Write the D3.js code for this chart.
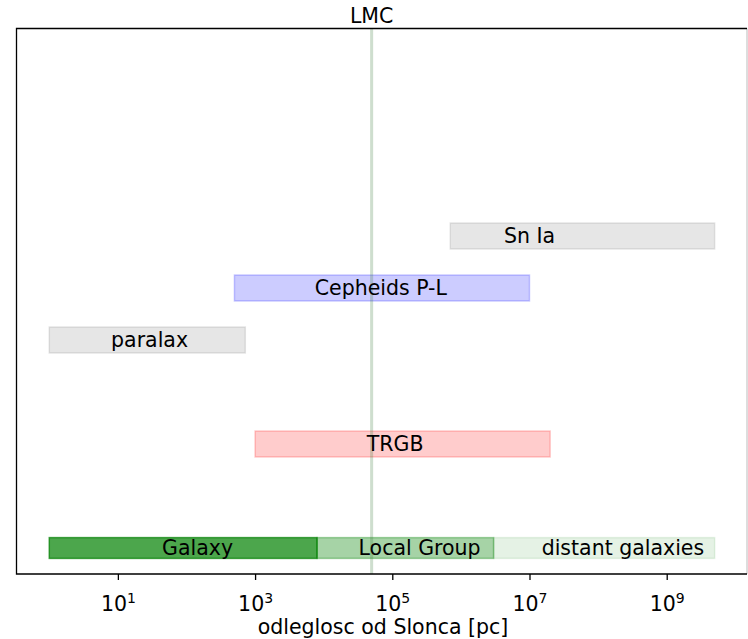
<!DOCTYPE html>
<html>
<head>
<meta charset="utf-8">
<script src="https://cdn.jsdelivr.net/npm/d3@7"></script>
<style>
  body { margin: 0; background: #fff; }
  text { font-family: "DejaVu Sans", sans-serif; fill: #000; }
</style>
</head>
<body>
<div id="chart"></div>
<script>
// distance ranges of methods (pc)
var methods = ["Sn Ia", "Cepheids P-L", "paralax", "TRGB"];
var methodRow = [6, 5, 4, 2];
var methodStart = [7e5, 500, 1, 1e3];
var methodEnd = [5e9, 1e7, 720, 2e7];
var methodColor = ["gray", "blue", "gray", "red"];
var methodLabelX = [1e7, 6.8e4, 29, 1.1e5];

// regions along the bottom row
var regions = ["Galaxy", "Local Group", "distant galaxies"];
var regionStart = [1, 8e3, 3e6];
var regionEnd = [8e3, 3e6, 5e9];
var regionAlpha = [0.7, 0.35, 0.1];
var regionLabelX = [145, 2.5e5, 2.3e8];

var lmc = 5e4;
var tickExp = [1, 3, 5, 7, 9];

var width = 748, height = 639;
var margin = {top: 28, right: 0, bottom: 65, left: 16};

var svg = d3.select("#chart").append("svg")
  .attr("width", width)
  .attr("height", height);

var x = d3.scaleLog()
  .domain([Math.pow(10, -0.485), Math.pow(10, 10.185)])
  .range([margin.left, width - margin.right]);

var y = d3.scaleLinear()
  .domain([-0.5, 10])
  .range([height - margin.bottom, margin.top]);

var fs = 20.5;

// method bars
var mdata = methods.map(function(m, i) {
  return {name: m, row: methodRow[i], s: methodStart[i], e: methodEnd[i], c: methodColor[i], lx: methodLabelX[i]};
});

svg.selectAll(".mbar")
    .data(mdata)
  .enter().append("rect")
    .attr("class", "mbar")
    .attr("x", function(d) { return x(d.s); })
    .attr("width", function(d) { return x(d.e) - x(d.s); })
    .attr("y", function(d) { return y(d.row + 0.25); })
    .attr("height", function(d) { return y(d.row - 0.25) - y(d.row + 0.25); })
    .attr("fill", function(d) { return d.c; })
    .attr("fill-opacity", 0.2)
    .attr("stroke", function(d) { return d.c; })
    .attr("stroke-opacity", 0.2)
    .attr("stroke-width", 1.5);

// region bars
var rdata = regions.map(function(r, i) {
  return {name: r, s: regionStart[i], e: regionEnd[i], a: regionAlpha[i], lx: regionLabelX[i]};
});

svg.selectAll(".rbar")
    .data(rdata)
  .enter().append("rect")
    .attr("class", "rbar")
    .attr("x", function(d) { return x(d.s); })
    .attr("width", function(d) { return x(d.e) - x(d.s); })
    .attr("y", y(0.2))
    .attr("height", y(-0.2) - y(0.2))
    .attr("fill", "green")
    .attr("fill-opacity", function(d) { return d.a; })
    .attr("stroke", "green")
    .attr("stroke-opacity", function(d) { return d.a; })
    .attr("stroke-width", 1.5);

// LMC line
svg.append("line")
  .attr("x1", x(lmc)).attr("x2", x(lmc))
  .attr("y1", margin.top).attr("y2", height - margin.bottom)
  .attr("stroke", "#3a7a3a")
  .attr("stroke-opacity", 0.25)
  .attr("stroke-width", 3);

// labels
svg.selectAll(".mlab")
    .data(mdata)
  .enter().append("text")
    .attr("x", function(d) { return x(d.lx); })
    .attr("y", function(d) { return y(d.row) + 7; })
    .attr("text-anchor", "middle")
    .attr("font-size", fs)
    .text(function(d) { return d.name; });

svg.selectAll(".rlab")
    .data(rdata)
  .enter().append("text")
    .attr("x", function(d) { return x(d.lx); })
    .attr("y", y(0) + 7)
    .attr("text-anchor", "middle")
    .attr("font-size", fs)
    .text(function(d) { return d.name; });

svg.append("text")
  .attr("x", x(lmc))
  .attr("y", 23)
  .attr("text-anchor", "middle")
  .attr("font-size", fs)
  .text("LMC");

// frame: left, top, bottom dark; right edge is cut off in the picture
var x0 = margin.left + 0.5, x1 = width - 1,
    y0 = margin.top + 0.5, y1 = height - margin.bottom;
svg.append("line").attr("x1", x1).attr("x2", x1).attr("y1", y0).attr("y2", y1)
  .attr("stroke", "#bbb").attr("stroke-width", 1);
svg.append("path")
  .attr("d", "M" + x1 + "," + y0 + "H" + x0 + "V" + y1 + "H" + x1)
  .attr("fill", "none")
  .attr("stroke", "#000")
  .attr("stroke-width", 1.3);

// x axis
var xAxis = d3.axisBottom(x)
  .tickValues(tickExp.map(function(e) { return Math.pow(10, e); }))
  .tickSize(6)
  .tickFormat("");

var ax = svg.append("g")
  .attr("transform", "translate(0," + (height - margin.bottom) + ")")
  .call(xAxis);
ax.select(".domain").remove();
ax.selectAll(".tick line").attr("stroke", "#000").attr("stroke-width", 1.3);

var lab = ax.selectAll(".tick").append("text")
  .attr("y", 37)
  .attr("text-anchor", "middle")
  .attr("font-size", fs);
lab.append("tspan").text("10");
lab.append("tspan")
  .attr("dy", -8)
  .attr("font-size", 14)
  .text(function(d, i) { return tickExp[i]; });

svg.append("text")
  .attr("x", (margin.left + width - margin.right) / 2 + 1)
  .attr("y", 634)
  .attr("text-anchor", "middle")
  .attr("font-size", fs)
  .text("odleglosc od Slonca [pc]");
</script>
</body>
</html>
